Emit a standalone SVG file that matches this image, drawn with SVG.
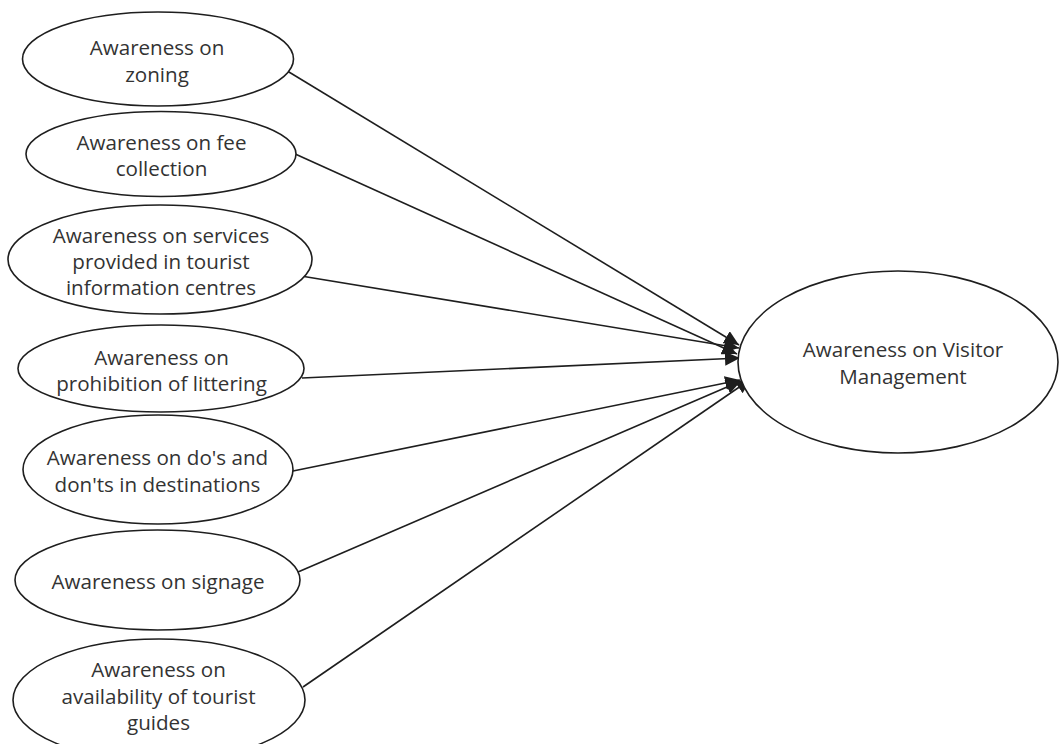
<svg xmlns="http://www.w3.org/2000/svg" width="1059" height="744" viewBox="0 0 1059 744">
<defs>
<style>
.n{fill:#fff;stroke:#1e1e1e;stroke-width:1.6}
.t{font-family:"Open Sans","Liberation Sans",sans-serif;font-size:20.6px;fill:#333;text-anchor:middle}
.c{stroke:#1e1e1e;stroke-width:1.6;fill:none;marker-end:url(#ah)}
</style>
<marker id="ah" markerUnits="userSpaceOnUse" markerWidth="16" markerHeight="14" refX="15" refY="7" orient="auto" viewBox="0 0 16 14">
<path d="M0,0 L15,7 L0,14 z" fill="#1e1e1e"/>
</marker>
</defs>
<rect width="1059" height="744" fill="#fff"/>
<g id="connectors">
<line class="c" x1="284" y1="69" x2="739" y2="345"/>
<line class="c" x1="293" y1="153" x2="737" y2="354"/>
<line class="c" x1="301" y1="276" x2="739" y2="348"/>
<line class="c" x1="302" y1="378" x2="740" y2="358"/>
<line class="c" x1="293" y1="471" x2="740" y2="380"/>
<line class="c" x1="298" y1="572" x2="741" y2="381"/>
<line class="c" x1="303" y1="687" x2="751" y2="379"/>
</g>
<g id="n1"><ellipse class="n" cx="158" cy="59" rx="135.5" ry="47"/>
<text class="t" x="157" y="55">Awareness on</text><text class="t" x="157" y="81.5">zoning</text></g>
<g id="n2"><ellipse class="n" cx="161" cy="154" rx="135" ry="42.5"/>
<text class="t" x="161.5" y="149.5">Awareness on fee</text><text class="t" x="161.5" y="175.5">collection</text></g>
<g id="n3"><ellipse class="n" cx="160" cy="259.5" rx="152" ry="54.5"/>
<text class="t" x="161" y="242.5">Awareness on services</text><text class="t" x="161" y="268.5">provided in tourist</text><text class="t" x="161" y="295">information centres</text></g>
<g id="n4"><ellipse class="n" cx="161" cy="368.5" rx="143" ry="43.5"/>
<text class="t" x="161.5" y="364.5">Awareness on</text><text class="t" x="161.5" y="391">prohibition of littering</text></g>
<g id="n5"><ellipse class="n" cx="158" cy="469.5" rx="135" ry="54.5"/>
<text class="t" x="157.5" y="465">Awareness on do's and</text><text class="t" x="157.5" y="491.5">don'ts in destinations</text></g>
<g id="n6"><ellipse class="n" cx="157.5" cy="580" rx="142.5" ry="50"/>
<text class="t" x="158" y="588.5">Awareness on signage</text></g>
<g id="n7"><ellipse class="n" cx="159" cy="700" rx="146" ry="61"/>
<text class="t" x="158.5" y="676.5">Awareness on</text><text class="t" x="158.5" y="703.5">availability of tourist</text><text class="t" x="158.5" y="730">guides</text></g>
<g id="n8"><ellipse class="n" cx="898" cy="362" rx="160" ry="91"/>
<text class="t" x="903" y="356.5">Awareness on Visitor</text><text class="t" x="903" y="384">Management</text></g>
</svg>
